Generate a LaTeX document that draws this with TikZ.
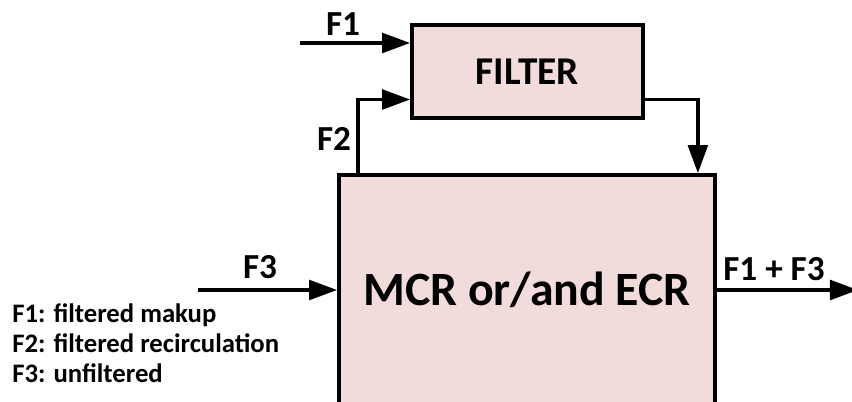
\documentclass[tikz,border=0pt]{standalone}
\usepackage{fontspec}
\setmainfont{Carlito}
\usepackage{xcolor}
\usetikzlibrary{positioning,calc,arrows.meta,shadows}
\definecolor{boxpink}{HTML}{F2DCDB}
\definecolor{glow}{HTML}{C9D7EC}

\begin{document}
\begin{tikzpicture}[x=0.025cm,y=-0.025cm,
    block/.style={draw=black, line width=2.6pt, fill=boxpink, inner sep=0pt,
        drop shadow={shadow xshift=1.5pt, shadow yshift=-1.5pt, fill=glow, opacity=0.6}},
    flow/.style={line width=2.6pt, -{Triangle[length=20pt,width=14pt]}},
    lbl/.style={font=\fontsize{25}{30}\selectfont\bfseries, anchor=base, inner sep=0pt},
    legend/.style={font=\fontsize{19}{22}\selectfont\bfseries, anchor=base west, inner sep=0pt}]
    \clip (0,0) rectangle (852,401);

    % reactor and filter
    \node[block, minimum width=9.4cm, minimum height=5.75cm,
        font=\fontsize{34}{40}\selectfont\bfseries] (mcr) at (527,290) {MCR or/and ECR};
    \node[block, minimum width=5.775cm, minimum height=2.325cm,
        font=\fontsize{28}{32}\selectfont\bfseries] (filter) at (527.5,71.5) {FILTER};

    % free ends
    \coordinate (f1in) at (300,43);
    \coordinate (f3in) at (198,290);
    \coordinate (outend) at (858,290);

    % flows
    \draw[flow] (f1in) -- (f1in -| filter.west);
    \draw[flow] ($(mcr.north west)+(21,0)$) |- ($(filter.west)+(0,28)$);
    \draw[flow] ($(filter.east)+(0,28)$) -| ($(mcr.north east)+(-19,0)$);
    \draw[flow] (f3in) -- (mcr.west);
    \draw[flow] (mcr.east) -- (outend);

    \node[lbl] (f1lbl) at (343,35) {F1};
    \node[lbl] (f2lbl) at (334,150) {F2};
    \node[lbl] (f3lbl) at (260,278) {F3};
    \node[lbl] (outlbl) at (774,280) {F1 + F3};

    % legend
    \foreach \txt [count=\i] in {F1: filtered makup, F2: filtered recirculation, F3: unfiltered}
        \node[legend] (legend\i) at (12,{292+30*\i}) {\txt};
\end{tikzpicture}
\end{document}
